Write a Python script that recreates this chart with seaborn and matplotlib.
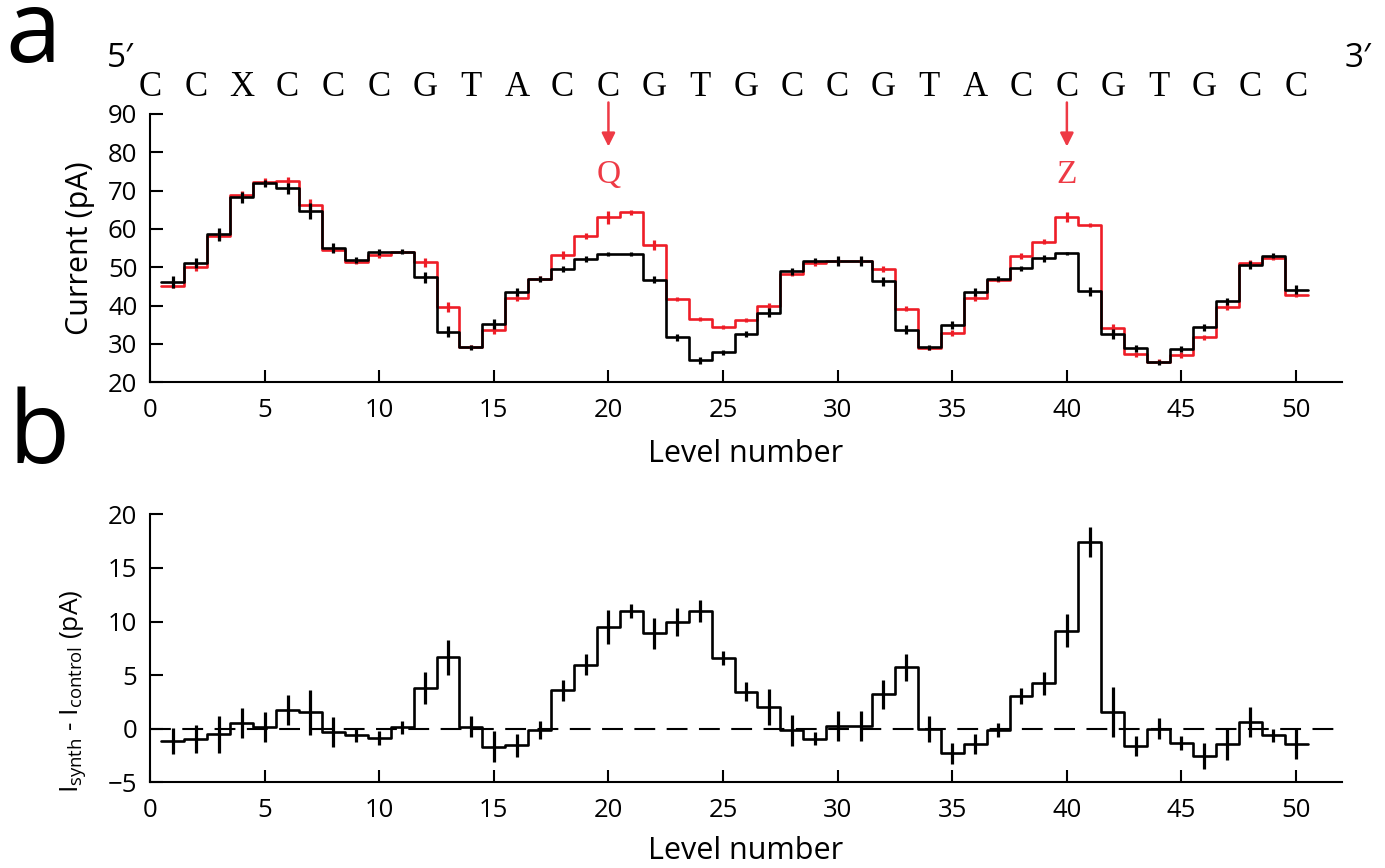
import numpy as np
import pandas as pd
import matplotlib
matplotlib.use("Agg")
import matplotlib.pyplot as plt
import seaborn as sns

# ---------------- data ----------------
levels = np.arange(1, 51)
control = [46.2, 51.0, 58.6, 68.3, 71.9, 70.6, 64.7, 55.0, 51.8, 54.0,
           54.1, 47.4, 33.2, 29.1, 35.2, 43.6, 47.0, 49.6, 52.1, 53.4,
           53.4, 46.7, 31.7, 25.7, 27.8, 32.6, 38.2, 48.9, 51.7, 51.7,
           51.7, 46.3, 33.7, 29.1, 35.0, 43.6, 47.0, 49.7, 52.3, 53.6,
           43.7, 32.5, 28.9, 25.2, 28.6, 34.3, 41.1, 50.6, 53.0, 44.1]
control_err = [1.5, 1.3, 1.7, 1.4, 1.0, 1.4, 2.0, 1.3, 0.8, 0.7,
               0.6, 1.4, 1.4, 0.7, 1.4, 1.1, 0.8, 0.8, 0.8, 0.5,
               0.5, 0.9, 0.9, 1.0, 0.6, 0.9, 1.3, 1.0, 0.6, 1.3,
               1.3, 1.2, 1.2, 0.7, 1.0, 1.1, 0.6, 0.6, 0.9, 0.5,
               1.2, 1.3, 0.9, 0.7, 0.8, 1.0, 0.9, 1.0, 0.6, 1.2]
synth = [45.1, 50.2, 58.2, 68.9, 72.3, 72.5, 66.3, 54.5, 51.5, 53.1,
         54.1, 51.3, 39.7, 29.3, 33.7, 42.0, 47.0, 53.2, 58.2, 63.0,
         64.3, 55.7, 41.7, 36.6, 34.4, 36.2, 40.0, 48.3, 51.0, 51.7,
         51.7, 49.6, 39.2, 28.9, 32.8, 42.0, 46.7, 53.0, 56.7, 63.0,
         61.0, 34.1, 27.3, 25.4, 27.1, 31.7, 39.7, 51.0, 52.3, 42.8]
synth_err = [0.6, 1.2, 1.2, 1.0, 1.0, 1.0, 1.5, 0.5, 0.6, 0.6,
             0.4, 1.2, 1.3, 0.5, 1.2, 0.9, 0.6, 1.0, 0.8, 1.6,
             0.7, 1.3, 0.6, 0.5, 0.5, 0.6, 0.8, 0.6, 0.6, 0.5,
             0.5, 0.8, 0.7, 0.5, 0.8, 0.8, 0.5, 0.8, 0.6, 1.3,
             0.6, 1.2, 0.6, 0.6, 0.7, 0.7, 0.8, 0.8, 0.4, 0.6]
diff = [-1.12, -0.96, -0.53, 0.56, 0.16, 1.74, 1.55, -0.34, -0.59, -0.87,
        0.12, 3.82, 6.65, 0.19, -1.68, -1.55, -0.12, 3.58, 5.97, 9.51,
        10.98, 8.89, 9.92, 10.98, 6.59, 3.45, 2.02, -0.16, -0.93, 0.22,
        0.22, 3.23, 5.72, -0.03, -2.30, -1.43, -0.10, 3.02, 4.23, 9.14,
        17.41, 1.55, -1.62, 0.0, -1.31, -2.55, -1.46, 0.65, -0.62, -1.43]
diff_err = [1.2, 1.3, 1.7, 1.4, 1.4, 1.4, 2.1, 1.4, 0.65, 0.65,
            0.6, 1.5, 1.65, 1.0, 1.45, 1.1, 0.8, 1.0, 1.0, 1.6,
            0.65, 1.45, 1.3, 1.0, 0.65, 0.9, 1.65, 1.45, 0.6, 1.4,
            1.4, 1.35, 1.25, 1.2, 0.95, 0.95, 0.65, 0.75, 1.05, 1.55,
            1.4, 2.3, 0.9, 1.0, 0.65, 1.2, 1.43, 1.4, 0.6, 1.4]
sequence = list("CCXCCCGTACCGTGCCGTACCGTGCC")
seq_levels = np.arange(0, 51, 2)
marked_levels = [20, 40]
marked_labels = ["Q", "Z"]
xticks = np.arange(0, 51, 5)
yticks_a = np.arange(20, 91, 10)
yticks_b = np.arange(-5, 21, 5)

# ---------------- style ----------------
sns.set_theme(style="ticks")
plt.rcParams["font.family"] = ["Open Sans", "DejaVu Sans"]
plt.rcParams["mathtext.fontset"] = "custom"
plt.rcParams["mathtext.rm"] = "Open Sans"
plt.rcParams["mathtext.it"] = "Open Sans"
plt.rcParams["text.color"] = "black"
plt.rcParams["axes.labelcolor"] = "black"
plt.rcParams["xtick.color"] = "black"
plt.rcParams["ytick.color"] = "black"

RED = "#ee1d27"
ARED = "#ee3a45"
BLACK = "#000000"
TICKFS = 18.5
LABFS = 22

fig = plt.figure(figsize=(13.85, 8.68), dpi=100)
ax_a = fig.add_axes([0.1083, 0.5596, 0.8606, 0.3091])
ax_b = fig.add_axes([0.1083, 0.0987, 0.8606, 0.3088])

edges = np.append(levels - 0.5, levels[-1] + 0.5)


def draw_steps(ax, values, color):
    vals = np.asarray(values, dtype=float)
    df = pd.DataFrame({"edge": edges, "val": np.append(vals, vals[-1])})
    sns.lineplot(data=df, x="edge", y="val", drawstyle="steps-post",
                 color=color, lw=1.9, ax=ax, estimator=None, sort=False)


def draw_err(ax, values, errs, color):
    ax.errorbar(levels, values, yerr=errs, fmt="none", ecolor=color,
                elinewidth=2.3, capsize=0, zorder=4)


# panel a
draw_steps(ax_a, synth, RED)
draw_steps(ax_a, control, BLACK)
draw_err(ax_a, synth, synth_err, RED)
draw_err(ax_a, control, control_err, BLACK)

# panel b
ax_b.axhline(0, color=BLACK, lw=1.5, dashes=(10, 5.5), zorder=1)
draw_steps(ax_b, diff, BLACK)
draw_err(ax_b, diff, diff_err, BLACK)

for ax, yt in ((ax_a, yticks_a), (ax_b, yticks_b)):
    ax.set_xlim(0, 52)
    ax.set_ylim(yt[0], yt[-1])
    ax.set_xticks(xticks)
    ax.set_yticks(yt)
    ax.tick_params(direction="in", length=9, width=1.5, labelsize=TICKFS,
                   colors=BLACK)
    ax.tick_params(axis="y", pad=9)
    ax.tick_params(axis="x", pad=11)
    for s in ("top", "right"):
        ax.spines[s].set_visible(False)
    for s in ("left", "bottom"):
        ax.spines[s].set_linewidth(1.5)
        ax.spines[s].set_color(BLACK)

ax_a.set_xlabel("Level number", fontsize=LABFS, labelpad=12, color=BLACK)
ax_b.set_xlabel("Level number", fontsize=LABFS, labelpad=10, color=BLACK)
ax_a.set_ylabel("Current (pA)", fontsize=LABFS, color=BLACK)
ax_a.yaxis.set_label_coords(-0.046, 0.5)
ax_b.set_ylabel(r"I$_{\mathrm{synth}}$ - I$_{\mathrm{control}}$ (pA)",
                fontsize=19, color=BLACK)
ax_b.yaxis.set_label_coords(-0.052, 0.34)

# sequence letters
for lv, ch in zip(seq_levels, sequence):
    ax_a.text(lv, 97.0, ch, ha="center", va="center", fontsize=25,
              family="Liberation Serif", color=BLACK, clip_on=False)
ax_a.text(-1.3, 104.6, "5\u2032", ha="center", va="center", fontsize=24,
          color=BLACK, clip_on=False)
ax_a.text(52.7, 104.6, "3\u2032", ha="center", va="center", fontsize=24,
          color=BLACK, clip_on=False)

for lv, lab in zip(marked_levels, marked_labels):
    ax_a.annotate("", xy=(lv, 81.5), xytext=(lv, 93.0),
                  arrowprops=dict(arrowstyle="-|>", color=ARED, lw=1.8,
                                  mutation_scale=20, shrinkA=0, shrinkB=0),
                  annotation_clip=False)
    ax_a.text(lv, 74.2, lab, ha="center", va="center", fontsize=24,
              family="Liberation Serif", color=ARED, clip_on=False)

# panel letters
fig.text(0.004, 0.9286, "a", fontsize=72, ha="left", va="baseline",
         color=BLACK)
fig.text(0.006, 0.4666, "b", fontsize=72, ha="left", va="baseline",
         color=BLACK)

fig.savefig("out.png", dpi=100)
